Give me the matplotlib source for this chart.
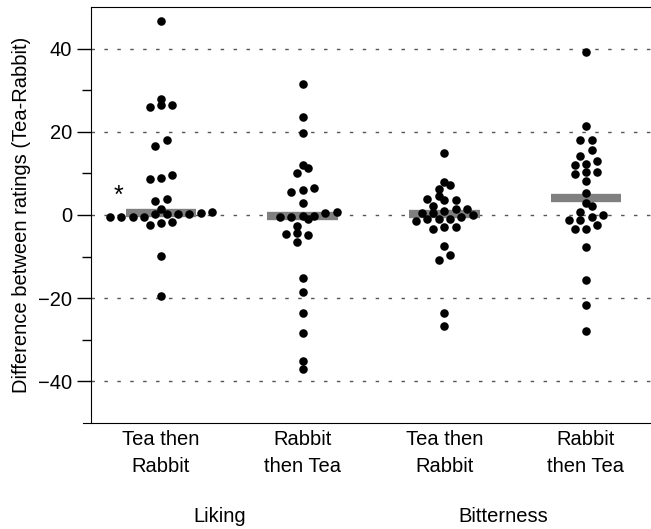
import numpy as np
import matplotlib.pyplot as plt

plt.rcParams['font.family'] = ['Liberation Sans', 'DejaVu Sans']

conditions = ['Tea then\nRabbit', 'Rabbit\nthen Tea', 'Tea then\nRabbit', 'Rabbit\nthen Tea']
attributes = ['Liking', 'Bitterness']

# difference between ratings (Tea - Rabbit)
liking_tea_first = [46.7, 28.0, 26.4, 26.4, 25.9, 18.0, 16.6, 9.5, 8.8, 8.6, 3.8, 3.4, 1.4,
                    0.8, 0.4, 0.2, 0.2, 0.2, 0.2, -0.4, -0.4, -0.4, -0.4,
                    -1.6, -2.0, -2.4, -9.9, -19.4]
liking_rabbit_first = [31.4, 23.6, 19.8, 12.1, 11.4, 10.0, 6.6, 6.0, 5.5, 2.8,
                       0.8, 0.5, -0.2, -0.3, -0.4, -0.6, -1.0,
                       -2.6, -4.4, -4.6, -4.9, -6.4, -15.2, -18.4, -23.5, -28.3, -35.0, -36.9]
bitter_tea_first = [14.8, 7.9, 7.1, 6.2, 4.6, 3.9, 3.7, 3.7, 2.2, 1.4, 1.4,
                    1.0, 0.4, 0.4, -0.1, -0.6, -0.9, -1.0, -1.0, -1.4,
                    -2.9, -3.0, -3.4, -7.5, -9.7, -10.9, -23.6, -26.6]
bitter_rabbit_first = [39.1, 21.4, 18.0, 18.0, 15.6, 14.2, 12.9, 12.3, 12.1, 10.3, 10.3, 9.9,
                       8.2, 5.4, 3.0, 2.2, 0.7, -0.1, -0.6, -1.2, -1.3,
                       -2.4, -3.4, -3.4, -7.8, -15.6, -21.6, -27.8]
groups = [liking_tea_first, liking_rabbit_first, bitter_tea_first, bitter_rabbit_first]

y_ticks = [-40, -20, 0, 20, 40]
y_minor = [-30, -10, 10, 30]

fig = plt.figure(figsize=(6.51, 5.29), dpi=100)
ax = fig.add_axes([83 / 651, 106 / 529, 568 / 651, 416 / 529])
xlo, xhi = 0.449, 4.459
x_spine = 0.506
ax.set_xlim(xlo, xhi)
ax.set_ylim(-50, 50)


def swarm(x0, values, step=11.3, row_px=6.7, min_px=6.3):
    # rows of near-equal values, centred, shifted sideways if they clash with earlier rows
    vals = np.asarray(values, dtype=float)
    pts = ax.transData.transform(np.column_stack([np.full(len(vals), x0), vals]))
    order = np.argsort(vals, kind='stable')
    rows, cur = [], [order[0]]
    for i in order[1:]:
        if abs(pts[i, 1] - pts[cur[0], 1]) <= row_px:
            cur.append(i)
        else:
            rows.append(cur)
            cur = [i]
    rows.append(cur)

    shifts = [0.0]
    for k in range(1, 20):
        shifts += [0.5 * k, -0.5 * k]
    placed = []
    xs = np.zeros(len(vals))
    for row in rows:
        n = len(row)
        base = (np.arange(n) - (n - 1) / 2) * step
        for s in shifts:
            cand = [(pts[i, 0] + b + s * step, pts[i, 1]) for i, b in zip(row, base)]
            ok = all(np.hypot(cx - qx, cy - qy) >= min_px
                     for cx, cy in cand for qx, qy in placed)
            if ok:
                break
        for i, (cx, cy) in zip(row, cand):
            xs[i] = cx
            placed.append((cx, cy))
    return ax.transData.inverted().transform(np.column_stack([xs, pts[:, 1]]))[:, 0]


ax.hlines(y_ticks, x_spine, xhi, colors='#555555', linestyles=(0, (2.5, 6.8)), lw=1, zorder=1)

for i, vals in enumerate(groups):
    xpos = i + 1
    med = np.median(vals)
    ax.plot([xpos - 0.25, xpos + 0.25], [med, med], color='#808080', lw=6,
            solid_capstyle='butt', zorder=2)
    ax.scatter(swarm(xpos, vals), vals, s=38, color='black', linewidths=0, zorder=3)

ax.text(0.70, 3.0, '*', fontsize=18, ha='center', va='baseline')

ax.set_xticks([1, 2, 3, 4], labels=conditions)
ax.set_yticks(y_ticks)
ax.set_yticks(y_minor, minor=True)
ax.tick_params(axis='y', which='major', length=10, width=1, pad=3.5, labelsize=14.5)
ax.tick_params(axis='y', which='minor', length=6.5, width=1)
ax.tick_params(axis='x', length=0, pad=5, labelsize=14.5)
for lab in ax.get_xticklabels():
    lab.set_linespacing(1.55)

ax.spines['right'].set_visible(False)
ax.spines['left'].set_position(('data', x_spine))
ax.spines['top'].set_bounds(x_spine, xhi)

ax.set_ylabel('Difference between ratings (Tea-Rabbit)', fontsize=14.5)
ax.yaxis.set_label_coords(-0.092, 0.5)

for j, name in enumerate(attributes):
    ax.text(1.416 + 2 * j, -0.224, name, transform=ax.get_xaxis_transform(),
            ha='center', va='center', fontsize=14.5)

fig.savefig('out.png', dpi=100)
